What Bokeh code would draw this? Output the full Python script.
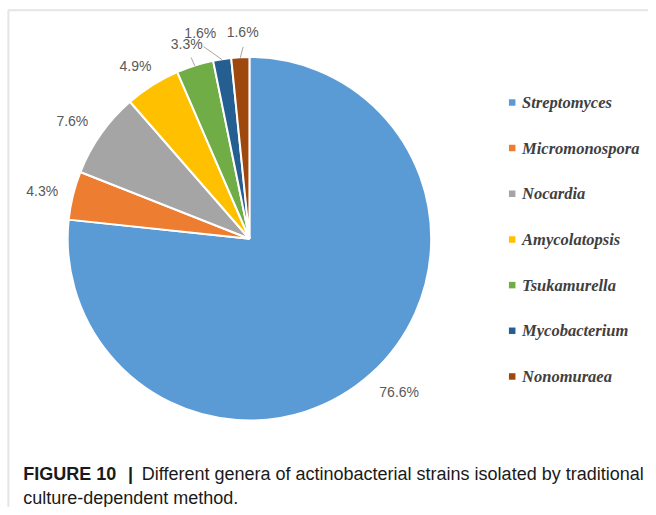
import numpy as np
from bokeh.plotting import figure
from bokeh.models import ColumnDataSource, BoxAnnotation
from bokeh.core.properties import value
from bokeh.embed import file_html
from bokeh.resources import INLINE

# ---- data ----
genera = ["Streptomyces", "Micromonospora", "Nocardia", "Amycolatopsis",
          "Tsukamurella", "Mycobacterium", "Nonomuraea"]
percent = [76.6, 4.3, 7.6, 4.9, 3.3, 1.6, 1.6]
pct_labels = ["76.6%", "4.3%", "7.6%", "4.9%", "3.3%", "1.6%", "1.6%"]
colors = ["#5B9BD5", "#ED7D31", "#A5A5A5", "#FFC000", "#70AD47", "#255E91", "#9E480E"]

caption_bold = "FIGURE 10"
caption_sep = "|"
caption_line1 = "Different genera of actinobacterial strains isolated by traditional"
caption_line2 = "culture-dependent method."

# ---- style / layout (reference pixel space 656 x 515) ----
W, H = 648, 507
RW, RH = 656, 515
CX, CY, R = 252, RH - 242, 184
label_shift_deg = [2.3, 0.7, 1.6, 1.1, 0.3, 4.7, -1.0]
label_rf = [1.18, 1.17, 1.17, 1.14, 1.13, 1.17, 1.14]
leader_rf = [0, 0, 0, 0, 1.05, 1.09, 1.06]

p = figure(width=W, height=H, x_range=(0, RW), y_range=(0, RH),
           output_backend="svg", toolbar_location=None, min_border=0)
p.xaxis.visible = False
p.yaxis.visible = False
p.grid.visible = False
p.outline_line_color = None
p.background_fill_color = "white"

# frame border
p.add_layout(BoxAnnotation(left=8, right=RW + 30, top=RH - 10, bottom=-30,
                           fill_alpha=0, line_color="#A9A9A9", line_width=2))

vals = np.array(percent, dtype=float)
frac = vals / vals.sum()
cum = np.concatenate([[0], np.cumsum(frac)])
start = np.pi / 2 - 2 * np.pi * cum[:-1]
end = np.pi / 2 - 2 * np.pi * cum[1:]
mid = (start + end) / 2

src = ColumnDataSource(dict(start=start, end=end, color=colors, genus=genera))
p.wedge(x=CX, y=CY, radius=R, start_angle="start", end_angle="end",
        direction="clock", fill_color="color", line_color="white",
        line_width=2, source=src)

# percentage labels
la = mid + np.radians(label_shift_deg)
lx = CX + R * np.array(label_rf) * np.cos(la)
ly = CY + R * np.array(label_rf) * np.sin(la)
p.text(x=lx, y=ly, text=pct_labels, text_align="center", text_baseline="middle",
       text_font=value("Liberation Sans"), text_font_size="14px", text_color="#595959")

# leader lines
x0s, y0s, x1s, y1s = [], [], [], []
for i, f in enumerate(leader_rf):
    if f > 0:
        x0s.append(CX + R * np.cos(mid[i])); y0s.append(CY + R * np.sin(mid[i]))
        x1s.append(CX + R * f * np.cos(la[i])); y1s.append(CY + R * f * np.sin(la[i]))
p.segment(x0=x0s, y0=y0s, x1=x1s, y1=y1s, line_color="#A6A6A6", line_width=1)

# legend
idx = np.arange(len(genera))
leg_y = (RH - 103.5) - 46.4 * idx
p.scatter(x=[518] * len(genera), y=leg_y, marker="square", size=6.5,
          fill_color=colors, line_color=None)
p.text(x=[528] * len(genera), y=leg_y, text=genera, text_align="left",
       text_baseline="middle", text_font=value("Liberation Serif"),
       text_font_style="bold italic", text_font_size="16.5px", text_color="#404040")

# caption
p.text(x=[23], y=[34], text=[caption_bold], text_font=value("Liberation Sans"),
       text_font_style="bold", text_font_size="18px", text_color="#1a1a1a",
       text_baseline="alphabetic")
p.text(x=[129], y=[34], text=[caption_sep], text_font=value("Liberation Sans"),
       text_font_style="bold", text_font_size="18px", text_color="#1a1a1a",
       text_baseline="alphabetic")
p.text(x=[143], y=[34], text=[caption_line1], text_font=value("Liberation Sans"),
       text_font_size="18px", text_color="#1a1a1a", text_baseline="alphabetic")
p.text(x=[23], y=[10], text=[caption_line2], text_font=value("Liberation Sans"),
       text_font_size="18px", text_color="#1a1a1a", text_baseline="alphabetic")

open("out.html", "w").write(file_html(p, INLINE))
